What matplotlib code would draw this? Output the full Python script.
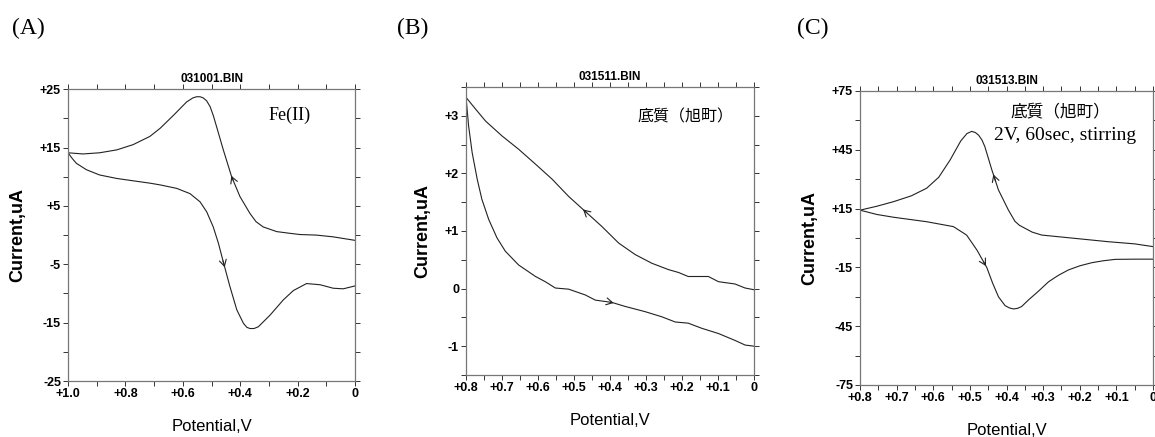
import numpy as np
import matplotlib.pyplot as plt
from matplotlib.ticker import MultipleLocator, FuncFormatter

# (A) Fe(II) cyclic voltammogram
a_fwd_v = [1.0, 0.985, 0.971, 0.936, 0.89, 0.83, 0.773, 0.715, 0.679, 0.621, 0.575, 0.540,
           0.517, 0.494, 0.476, 0.459, 0.436, 0.412, 0.389, 0.377, 0.366, 0.352, 0.337,
           0.296, 0.250, 0.215, 0.169, 0.122, 0.076, 0.041, 0.0]
a_fwd_i = [14.1, 13.1, 12.3, 11.2, 10.3, 9.7, 9.3, 8.9, 8.6, 8.0, 7.1, 5.7,
           4.0, 1.4, -1.4, -4.6, -8.8, -12.8, -15.1, -15.8, -16.0, -16.0, -15.7,
           -13.7, -11.1, -9.5, -8.3, -8.5, -9.1, -9.2, -8.7]
a_rev_v = [0.0, 0.076, 0.134, 0.192, 0.226, 0.273, 0.320, 0.345, 0.366, 0.401, 0.430, 0.459,
           0.482, 0.494, 0.505, 0.517, 0.529, 0.540, 0.552, 0.565, 0.587, 0.633, 0.679,
           0.715, 0.773, 0.83, 0.89, 0.948, 1.0]
a_rev_i = [-0.9, -0.3, 0.0, 0.1, 0.3, 0.6, 1.4, 2.3, 3.7, 6.6, 10.0, 14.6,
           18.5, 20.5, 22.0, 23.0, 23.5, 23.7, 23.7, 23.5, 22.8, 20.5, 18.3,
           16.9, 15.5, 14.6, 14.1, 13.9, 14.1]

# (B) sediment blank
b_fwd_v = [0.8, 0.793, 0.783, 0.769, 0.756, 0.737, 0.714, 0.691, 0.654, 0.607, 0.58, 0.552,
           0.515, 0.469, 0.441, 0.395, 0.358, 0.303, 0.256, 0.219, 0.183, 0.145, 0.099,
           0.053, 0.025, 0.0]
b_fwd_i = [3.32, 2.83, 2.36, 1.90, 1.55, 1.20, 0.88, 0.65, 0.41, 0.21, 0.12, 0.01,
           -0.01, -0.11, -0.20, -0.24, -0.31, -0.40, -0.49, -0.58, -0.60, -0.69, -0.78,
           -0.90, -0.98, -1.0]
b_rev_v = [0.0, 0.025, 0.053, 0.099, 0.127, 0.183, 0.21, 0.238, 0.284, 0.33, 0.376, 0.423,
           0.469, 0.515, 0.561, 0.607, 0.654, 0.7, 0.746, 0.774, 0.8]
b_rev_i = [-0.02, 0.01, 0.08, 0.12, 0.21, 0.21, 0.28, 0.33, 0.44, 0.59, 0.79, 1.08,
           1.34, 1.60, 1.90, 2.16, 2.42, 2.65, 2.91, 3.12, 3.32]

# (C) sediment after 2 V deposition with stirring
c_fwd_v = [0.8, 0.754, 0.709, 0.618, 0.545, 0.509, 0.481, 0.454, 0.438, 0.422, 0.404, 0.392,
           0.381, 0.370, 0.359, 0.340, 0.312, 0.285, 0.258, 0.231, 0.2, 0.167, 0.135,
           0.103, 0.05, 0.0]
c_fwd_i = [14.2, 12.0, 10.6, 8.3, 5.8, 1.5, -6.1, -15.0, -23.0, -30.0, -34.5, -35.7,
           -36.2, -35.9, -35.0, -31.6, -27.0, -22.3, -19.0, -16.3, -14.2, -12.6, -11.6,
           -10.9, -10.8, -10.8]
c_rev_v = [0.0, 0.05, 0.122, 0.213, 0.304, 0.33, 0.35, 0.365, 0.377, 0.395, 0.422, 0.440,
           0.459, 0.467, 0.476, 0.485, 0.495, 0.508, 0.525, 0.554, 0.585, 0.618, 0.66,
           0.709, 0.754, 0.8]
c_rev_i = [-4.4, -3.0, -1.9, -0.2, 1.5, 3.0, 5.0, 6.5, 8.5, 14.3, 24.5, 34.7,
           46.5, 50.0, 52.4, 53.8, 54.4, 53.3, 49.5, 39.8, 31.0, 25.4, 21.5,
           18.5, 16.2, 14.2]

plt.rcParams['font.family'] = ['Liberation Sans', 'DejaVu Sans']
SERIF = ['Liberation Serif', 'DejaVu Serif']
CJK = ['Noto Sans CJK JP', 'DejaVu Sans']

fig = plt.figure(figsize=(11.55, 4.37), dpi=100)


def fmt(v, digits):
    if abs(v) < 1e-9:
        return '0'
    return f'{v:+.{digits}f}'


def setup(ax, title, xlim, ylim, xmaj, ymaj, yfirst):
    ax.set_xlim(*xlim)
    ax.set_ylim(*ylim)
    ax.xaxis.set_major_locator(MultipleLocator(xmaj))
    ax.xaxis.set_minor_locator(MultipleLocator(0.1 if xmaj > 0.1 else 0.05))
    ax.set_yticks(np.arange(yfirst, ylim[1] + 1e-9, ymaj))
    ax.yaxis.set_minor_locator(MultipleLocator(ymaj / 2))
    ax.xaxis.set_major_formatter(FuncFormatter(lambda v, p: fmt(v, 1)))
    ax.yaxis.set_major_formatter(FuncFormatter(lambda v, p: fmt(v, 0)))
    ax.tick_params(which='both', direction='out', length=3.5, width=0.7,
                   top=True, right=True, labelsize=9, pad=1.5, color='#333333')
    for lab in ax.get_xticklabels() + ax.get_yticklabels():
        lab.set_fontweight('bold')
    for s in ax.spines.values():
        s.set_color('#777777')
        s.set_linewidth(0.9)
    ax.set_title(title, fontsize=8.5, fontweight='bold', pad=5)
    ax.set_xlabel('Potential,V', fontsize=12, labelpad=14)
    ax.set_ylabel('Current,uA', fontsize=13, fontweight='bold', labelpad=10)


def sweep_arrow(ax, v, i, at, dv):
    # small open chevron pointing along the sweep direction
    order = np.argsort(v)
    vs = np.asarray(v)[order]
    cs = np.asarray(i)[order]
    y0 = np.interp(at, vs, cs)
    y1 = np.interp(at + dv, vs, cs)
    ax.annotate('', xy=(at + dv, y1), xytext=(at, y0),
                arrowprops=dict(arrowstyle='->,head_length=0.45,head_width=0.25',
                                lw=0.8, color='#222222', shrinkA=0, shrinkB=0))


line_kw = dict(color='#222222', lw=0.8)

# panel A
ax1 = fig.add_axes([0.0589, 0.128, 0.2485, 0.668])
ax1.plot(a_fwd_v, a_fwd_i, **line_kw)
ax1.plot(a_rev_v, a_rev_i, **line_kw)
setup(ax1, '031001.BIN', (1.0, 0.0), (-25, 25), 0.2, 10, -25)
sweep_arrow(ax1, a_rev_v, a_rev_i, 0.425, 0.006)
sweep_arrow(ax1, a_fwd_v, a_fwd_i, 0.46, -0.006)
ax1.text(0.697, 0.911, 'Fe(II)', transform=ax1.transAxes, fontsize=13,
         va='center', family=SERIF)

# panel B
ax2 = fig.add_axes([0.4035, 0.1419, 0.2494, 0.659])
ax2.plot(b_fwd_v, b_fwd_i, **line_kw)
ax2.plot(b_rev_v, b_rev_i, **line_kw)
setup(ax2, '031511.BIN', (0.8, 0.0), (-1.5, 3.5), 0.1, 1, -1)
sweep_arrow(ax2, b_rev_v, b_rev_i, 0.465, 0.01)
sweep_arrow(ax2, b_fwd_v, b_fwd_i, 0.40, -0.01)
ax2.text(0.594, 0.896, '底質（旭町）', transform=ax2.transAxes, fontsize=11.5,
         va='center', family=CJK)

# panel C
ax3 = fig.add_axes([0.7446, 0.119, 0.2537, 0.6728])
ax3.plot(c_fwd_v, c_fwd_i, **line_kw)
ax3.plot(c_rev_v, c_rev_i, **line_kw)
setup(ax3, '031513.BIN', (0.8, 0.0), (-75, 75), 0.1, 30, -75)
sweep_arrow(ax3, c_rev_v, c_rev_i, 0.43, 0.006)
sweep_arrow(ax3, c_fwd_v, c_fwd_i, 0.462, -0.006)
ax3.text(0.512, 0.929, '底質（旭町）', transform=ax3.transAxes, fontsize=12,
         va='center', family=CJK)
ax3.text(0.457, 0.850, '2V, 60sec, stirring', transform=ax3.transAxes, fontsize=14,
         va='center', family=SERIF)

# panel letters
for x, s in [(0.010, '(A)'), (0.344, '(B)'), (0.690, '(C)')]:
    fig.text(x, 0.936, s, fontsize=17, va='center', family=SERIF)

fig.savefig('out.png', dpi=100)
